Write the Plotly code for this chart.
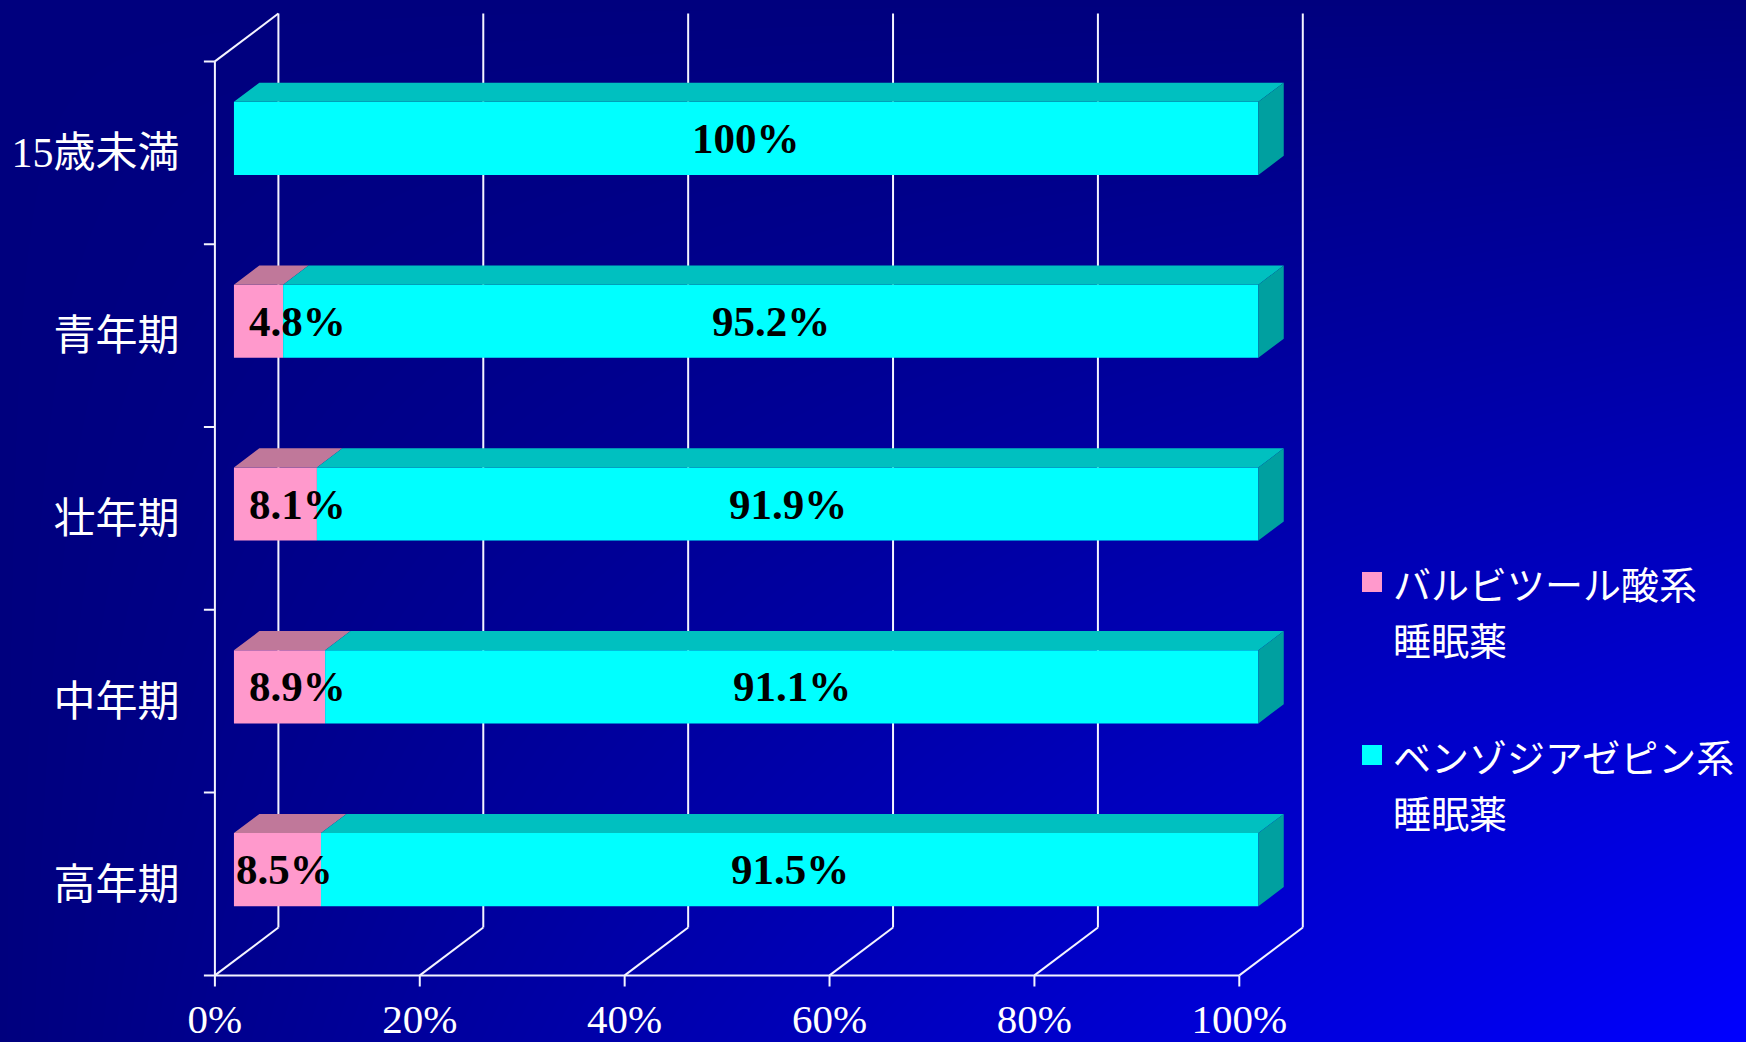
import plotly.graph_objects as go

# ---------------- data ----------------
categories = ["15歳未満", "青年期", "壮年期", "中年期", "高年期"]
barbiturate = [0, 4.8, 8.1, 8.9, 8.5]
benzodiazepine = [100, 95.2, 91.9, 91.1, 91.5]
series_names = ["バルビツール酸系<br>睡眠薬", "ベンゾジアゼピン系<br>睡眠薬"]
x_ticks = [0, 20, 40, 60, 80, 100]
x_tick_labels = ["0%", "20%", "40%", "60%", "80%", "100%"]

# ---------------- styling / geometry ----------------
W, H = 1746, 1042
PX0, PX100 = 214.9, 1239.3          # front x axis pixel positions (0%, 100%)
PY_BOTTOM, PY_TOP = 975.4, 61.4     # front y axis pixel extent
DEPTH_PX_X, DEPTH_PX_Y = 63.5, 47.9  # 3D depth offset in pixels
F0, F1 = 0.3, 0.7                   # bar front / back depth fractions
BAR_W = 0.4
front_colors = ["#FF99CC", "#00FFFF"]
top_colors = ["#C0789A", "#00C0C0"]
side_colors = ["#A0607F", "#00A0A0"]
pink_label_xshift = [0, 13, 13, 13, 0]
LINE = dict(color="#F4F4FF", width=2)

n = len(categories)
kx = (PX100 - PX0) / 100.0
ky = (PY_BOTTOM - PY_TOP) / n
ddx = DEPTH_PX_X / kx
ddy = DEPTH_PX_Y / ky
xr = [-1.6, 100 + ddx + 0.6]
yr = [-0.6, n - 0.5 + ddy + 0.03]


def py(y):
    return PY_BOTTOM - ky * (y + 0.5)


x_dom = [(PX0 + kx * xr[0]) / W, (PX0 + kx * xr[1]) / W]
y_dom = [1 - py(yr[0]) / H, 1 - py(yr[1]) / H]

fig = go.Figure()

# background gradient (navy -> blue toward bottom-right)
fig.add_trace(go.Heatmap(
    x=[0, 1], y=[0, 1], z=[[0, 1], [0, 0]], zmin=0, zmax=1, zsmooth="best",
    colorscale=[[0, "#00007E"], [1, "#0000FF"]], showscale=False,
    hoverinfo="skip", xaxis="x", yaxis="y"))

ypos = [n - 1 - k for k in range(n)]
series = [barbiturate, benzodiazepine]
cum = [0.0] * n
tops = [[[], []], [[], []]]
sides = [[[], []], [[], []]]
annotations = []
LABEL_FONT = dict(family="Liberation Serif", size=43, color="black", weight="bold")
for s, vals in enumerate(series):
    bases = [cum[k] + F0 * ddx for k in range(n)]
    yc = [ypos[k] + F0 * ddy for k in range(n)]
    fig.add_trace(go.Bar(
        orientation="h", y=yc, x=vals, base=bases, width=BAR_W,
        marker=dict(color=front_colors[s], line=dict(width=0)),
        name=series_names[s], showlegend=False, xaxis="x2", yaxis="y2",
        hoverinfo="skip"))
    dd = (F1 - F0) * ddx
    dv = (F1 - F0) * ddy
    for k in range(n):
        v = vals[k]
        if v <= 0:
            continue
        b0 = bases[k]
        b1 = b0 + v
        yt = yc[k] + BAR_W / 2
        yb = yc[k] - BAR_W / 2
        tops[s][0] += [b0, b1, b1 + dd, b0 + dd, b0, None]
        tops[s][1] += [yt, yt, yt + dv, yt + dv, yt, None]
        if s == len(series) - 1:
            sides[s][0] += [b1, b1, b1 + dd, b1 + dd, b1, None]
            sides[s][1] += [yb, yt, yt + dv, yb + dv, yb, None]
        label = f"{v:g}%"
        if s == 0:
            annotations.append(dict(
                x=b0, y=yc[k], xref="x2", yref="y2", text=label,
                xanchor="left", yanchor="middle", showarrow=False,
                xshift=pink_label_xshift[k], font=LABEL_FONT))
        else:
            annotations.append(dict(
                x=(b0 + b1) / 2, y=yc[k], xref="x2", yref="y2", text=label,
                xanchor="center", yanchor="middle", showarrow=False,
                font=LABEL_FONT))
        cum[k] += v
    if tops[s][0]:
        fig.add_trace(go.Scatter(
            x=tops[s][0], y=tops[s][1], mode="lines", fill="toself",
            fillcolor=top_colors[s], line=dict(width=0), showlegend=False,
            hoverinfo="skip", xaxis="x2", yaxis="y2"))
    if sides[s][0]:
        fig.add_trace(go.Scatter(
            x=sides[s][0], y=sides[s][1], mode="lines", fill="toself",
            fillcolor=side_colors[s], line=dict(width=0), showlegend=False,
            hoverinfo="skip", xaxis="x2", yaxis="y2"))

# ---------------- walls / gridlines ----------------
shapes = []
ylo, yhi = -0.5, n - 0.5
for v in x_ticks:
    # back wall vertical
    shapes.append(dict(type="line", xref="x2", yref="y2", x0=v + ddx, x1=v + ddx,
                       y0=ylo + ddy, y1=yhi + ddy, line=LINE, layer="below"))
    # floor diagonal
    shapes.append(dict(type="line", xref="x2", yref="y2", x0=v, x1=v + ddx,
                       y0=ylo, y1=ylo + ddy, line=LINE, layer="below"))
    # tick mark
    shapes.append(dict(type="line", xref="x2", yref="y2", ysizemode="pixel",
                       yanchor=ylo, x0=v, x1=v, y0=0, y1=-11, line=LINE,
                       layer="below"))
# left wall top diagonal
shapes.append(dict(type="line", xref="x2", yref="y2", x0=0, x1=ddx,
                   y0=yhi, y1=yhi + ddy, line=LINE, layer="below"))
# front axes
shapes.append(dict(type="line", xref="x2", yref="y2", x0=0, x1=0,
                   y0=ylo, y1=yhi, line=LINE, layer="below"))
shapes.append(dict(type="line", xref="x2", yref="y2", x0=0, x1=100,
                   y0=ylo, y1=ylo, line=LINE, layer="below"))
# y boundary ticks
for b in range(n + 1):
    yb = -0.5 + b
    shapes.append(dict(type="line", xref="x2", yref="y2", xsizemode="pixel",
                       xanchor=0, x0=0, x1=-11, y0=yb, y1=yb, line=LINE,
                       layer="below"))

# ---------------- manual legend ----------------
leg_sq_x = 1372
leg_text_x = 1391
leg_rows = [582, 755]
for s, name in enumerate(series_names):
    cy = leg_rows[s]
    shapes.append(dict(type="rect", xref="paper", yref="paper",
                       x0=(leg_sq_x - 10) / W, x1=(leg_sq_x + 10) / W,
                       y0=1 - (cy + 10) / H, y1=1 - (cy - 10) / H,
                       fillcolor=front_colors[s], line=dict(width=0),
                       layer="above"))
    for li, line_txt in enumerate(name.split("<br>")):
        annotations.append(dict(
            x=leg_text_x / W, y=1 - (cy + li * 56) / H, xref="paper", yref="paper",
            text=line_txt, xanchor="left", yanchor="middle", showarrow=False,
            font=dict(family="Noto Sans CJK JP", size=38, color="white")))

fig.update_layout(
    width=W, height=H,
    margin=dict(l=0, r=0, t=0, b=0, autoexpand=False),
    paper_bgcolor="#000080",
    plot_bgcolor="rgba(0,0,0,0)",
    barmode="overlay",
    showlegend=False,
    shapes=shapes,
    annotations=annotations,
    xaxis=dict(domain=[0, 1], range=[0, 1], visible=False, fixedrange=True,
               automargin=False),
    yaxis=dict(domain=[0, 1], range=[0, 1], visible=False, fixedrange=True,
               automargin=False),
    xaxis2=dict(domain=x_dom, range=xr, anchor="y2", tickmode="array",
                tickvals=x_ticks, ticktext=x_tick_labels, ticks="",
                showgrid=False, zeroline=False, showline=False,
                automargin=False, ticklabelstandoff=-3,
                tickfont=dict(family="Liberation Serif", size=41, color="white")),
    yaxis2=dict(domain=y_dom, range=yr, anchor="x2", tickmode="array",
                tickvals=ypos, ticktext=categories, ticks="",
                showgrid=False, zeroline=False, showline=False,
                automargin=False, ticklabelstandoff=18,
                tickfont=dict(family="Liberation Serif, Noto Sans CJK JP",
                              size=42, color="white")),
)

fig.write_html("out.html")
